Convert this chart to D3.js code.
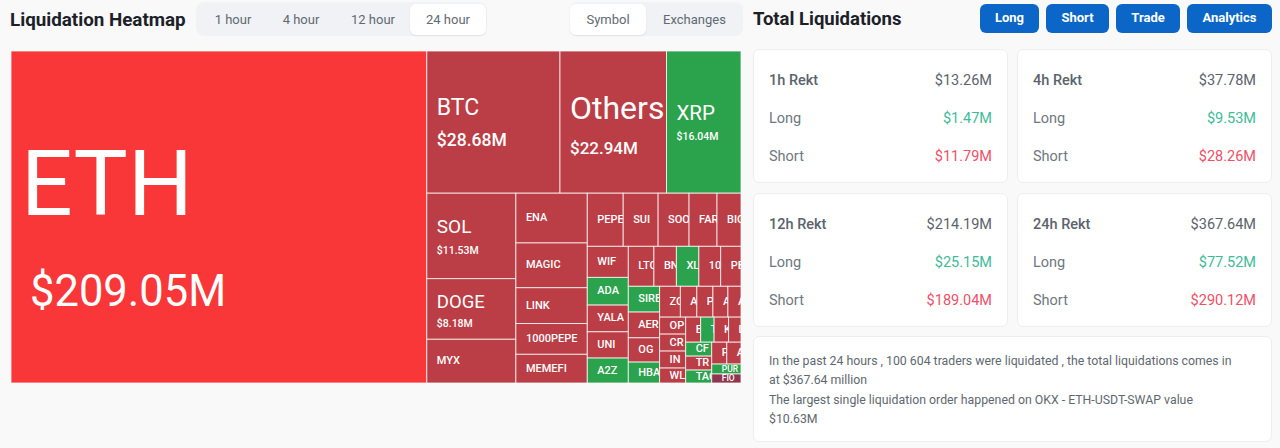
<!DOCTYPE html>
<html>
<head>
<meta charset="utf-8">
<script src="https://cdn.jsdelivr.net/npm/d3@7"></script>
<style>
  html, body { margin: 0; width: 1280px; height: 448px; overflow: hidden; background: #f9f9fa; font-family: "Roboto", sans-serif; }
  .abs { position: absolute; }
  .title { font-weight: 700; font-size: 18.5px; color: #1c2127; white-space: nowrap; }
  .tabs { background: #f0f2f5; border-radius: 8px; height: 34px; }
  .tab { position: absolute; top: 2px; height: 31px; line-height: 31px; text-align: center; font-size: 13px; color: #5f6973; border-radius: 6px; }
  .tab.on { background: #fff; box-shadow: 0 1px 2px rgba(0,0,0,.08); }
  .btn { top: 4px; height: 29px; line-height: 28px; text-align: center; color: #fff; font-weight: 700; font-size: 13px; background: #0b66c8; border-radius: 6px; }
  .card { background: #fff; border: 1px solid #eceef0; border-radius: 6px; box-sizing: border-box; }
  .row { position: absolute; left: 15px; right: 15px; font-size: 14.5px; color: #6f7780; display: flex; justify-content: space-between; }
  .row.head { color: #5b636c; }
  .row.head span:first-child { font-weight: 500; }
  .long { color: #3dbb9a; } .short { color: #ee5068; }
  .info { font-size: 12.3px; line-height: 19.3px; color: #60686f; padding: 7px 30px 8px 15px; }
  svg { position: absolute; left: 0; top: 0; }
  svg text { font-family: "Roboto", sans-serif; fill: #fff; }
</style>
</head>
<body>
<script>
// treemap labels as far as the picture shows them, values in $M
const symbols = ["ETH","BTC","Others","XRP","SOL","DOGE","MYX","ENA","MAGIC","LINK","1000PEPE","MEMEFI",
  "PEPE","SUI","SOO","FAR","BIO","WIF","ADA","YALA","UNI","A2Z","LTC","BN","XL","10","PE",
  "SIRE","AER","OG","HBA","ZO","A","P","A","A","OP","CR","IN","WL","E","T","K","L",
  "CF","TR","TAC","P","A","PUR","FIO"];
const liquidations = [209.05,28.68,22.94,16.04,11.53,8.18,5.9,5.38,4.84,3.87,3.33,3.1,
  2.89,2.81,2.49,2.25,1.93,1.93,1.72,1.66,1.63,1.55,1.55,1.36,1.36,1.32,1.23,
  1.22,1.22,1.15,0.99,0.97,0.77,0.75,0.7,0.61,0.67,0.67,0.67,0.59,0.57,0.51,0.55,0.47,
  0.55,0.55,0.51,0.5,0.47,0.44,0.4];
// how many symbols sit in each strip of the heatmap, biggest first
const stripSizes = [1,3,3,5,5,5,5,4,5,4,4,3,2,2];
const greenSymbols = ["XRP","ADA","A2Z","XL","SIRE","HBA","T","CF","TAC","PUR"];
const paleSymbols = ["ETH"], darkSymbols = ["FIO"];
const totals = ["1h","4h","12h","24h"];
const totalRekt = ["$13.26M","$37.78M","$214.19M","$367.64M"];
const totalLong = ["$1.47M","$9.53M","$25.15M","$77.52M"];
const totalShort = ["$11.79M","$28.26M","$189.04M","$290.12M"];
const hourTabs = ["1 hour","4 hour","12 hour","24 hour"];
const viewTabs = ["Symbol","Exchanges"];
const buttons = ["Long","Short","Trade","Analytics"];

const body = d3.select("body");

function addDiv(cls, left, top, width, height, text) {
  return body.append("div").attr("class", "abs " + cls)
    .style("left", left + "px").style("top", top + "px")
    .style("width", width == null ? null : width + "px")
    .style("height", height == null ? null : height + "px")
    .text(text || null);
}

// header, left
addDiv("title", 10, 9, null, null, "Liquidation Heatmap").style("font-size", "18.8px");
const tabs1 = addDiv("tabs", 196, 2, 291, null);
[[17,40],[85,40],[146,62],[214,76]].forEach((p, i) => {
  tabs1.append("div").attr("class", "tab" + (i == 3 ? " on" : ""))
    .style("left", p[0] + "px").style("width", p[1] + "px").text(hourTabs[i]);
});
const tabs2 = addDiv("tabs", 570, 2, 173, null);
[[0,76],[76,97]].forEach((p, i) => {
  tabs2.append("div").attr("class", "tab" + (i == 0 ? " on" : ""))
    .style("left", p[0] + "px").style("width", p[1] + "px").text(viewTabs[i]);
});

// header, right
addDiv("title", 753, 8, null, null, "Total Liquidations");
[[980,59],[1046,63],[1116,64],[1187,85]].forEach((p, i) => addDiv("btn", p[0], 4, p[1], null, buttons[i]));

// total cards
const cardX = d3.scalePoint().domain([0, 1]).range([753, 1017]);
const cardY = d3.scalePoint().domain([0, 1]).range([49, 193]);
totals.forEach((t, i) => {
  const card = addDiv("card", cardX(i % 2), cardY(i >> 1), 255, 134);
  const rows = [[t + " Rekt", totalRekt[i], "", "head"], ["Long", totalLong[i], "long", ""], ["Short", totalShort[i], "short", ""]];
  rows.forEach((r, j) => {
    const row = card.append("div").attr("class", "row " + r[3]).style("top", 22 + j * 38 + "px");
    row.append("span").text(r[0]);
    row.append("span").attr("class", r[2]).text(r[1]);
  });
});

const info = addDiv("card info", 753, 336, 519, 106);
info.append("div").style("margin-top", "8px").text("In the past 24 hours , 100 604 traders were liquidated , the total liquidations comes in at $367.64 million");
info.append("div").text("The largest single liquidation order happened on OKX - ETH-USDT-SWAP value $10.63M");

// heatmap
const svg = body.append("svg").attr("width", 1280).attr("height", 448);
const map = { left: 11, top: 51, right: 741, bottom: 383 };

const root = d3.hierarchy({ children: symbols.map((s, i) => ({ symbol: s, value: liquidations[i] })) })
  .sum(d => d.value || 0);

// squarified look, but the strip breaks follow the picture instead of d3's own ratio test
function stripTile(parent, x0, y0, x1, y1) {
  let start = 0, left = parent.value;
  stripSizes.forEach(n => {
    const children = parent.children.slice(start, start + n);
    const value = d3.sum(children, c => c.value);
    const strip = { children, value };
    const share = value / left;
    if (x1 - x0 < y1 - y0) {
      const y = y0 + (y1 - y0) * share;
      d3.treemapDice(strip, x0, y0, x1, y);
      y0 = y;
    } else {
      const x = x0 + (x1 - x0) * share;
      d3.treemapSlice(strip, x0, y0, x, y1);
      x0 = x;
    }
    start += n;
    left -= value;
  });
}

d3.treemap().tile(stripTile).size([map.right - map.left, map.bottom - map.top])(root);

function cellColor(s) {
  if (paleSymbols.includes(s)) return "#f93638";
  if (darkSymbols.includes(s)) return "#90364f";
  return greenSymbols.includes(s) ? "#2ba24c" : "#bb3d45";
}

// font size and baseline offset from cell centre: [name, nameDy, value, valueDy, nameX, valueX]
const bigLabels = {
  ETH: [91, -2, 43.5, 89, 10, 19], BTC: [23, -7, 17.5, 24, 10, 10], Others: [32, -3, 17, 32, 10, 10],
  XRP: [20.5, -2, 10.5, 18, 10, 10], SOL: [19, -3, 10.5, 18, 10, 10], DOGE: [18.5, -1, 10.5, 18, 10, 10]
};

const cell = svg.append("g").attr("transform", `translate(${map.left},${map.top})`)
  .selectAll("g").data(root.leaves()).join("g")
  .attr("transform", d => `translate(${d.x0},${d.y0})`);

cell.append("clipPath").attr("id", (d, i) => "clip" + i)
  .append("rect").attr("width", d => d.x1 - d.x0).attr("height", d => d.y1 - d.y0);

cell.append("rect")
  .attr("width", d => d.x1 - d.x0).attr("height", d => d.y1 - d.y0)
  .attr("fill", d => cellColor(d.data.symbol))
  .attr("stroke", "#fff").attr("stroke-opacity", 0.75).attr("stroke-width", 1);

const label = cell.append("g").attr("clip-path", (d, i) => `url(#clip${i})`);

label.append("text")
  .attr("x", d => bigLabels[d.data.symbol] ? bigLabels[d.data.symbol][4] : 10)
  .attr("y", d => (d.y1 - d.y0) / 2 + (bigLabels[d.data.symbol] ? bigLabels[d.data.symbol][1] : 3))
  .attr("font-size", d => bigLabels[d.data.symbol] ? bigLabels[d.data.symbol][0] : (d.y1 - d.y0 < 12 ? 8.5 : 11))
  .attr("font-weight", d => bigLabels[d.data.symbol] ? 400 : 500)
  .text(d => d.data.symbol);

label.filter(d => bigLabels[d.data.symbol]).append("text")
  .attr("x", d => bigLabels[d.data.symbol][5])
  .attr("y", d => (d.y1 - d.y0) / 2 + bigLabels[d.data.symbol][3])
  .attr("font-size", d => bigLabels[d.data.symbol][2])
  .attr("font-weight", d => d.data.symbol == "ETH" ? 400 : 500)
  .text(d => d3.format("$.2f")(d.value) + "M");
</script>
</body>
</html>
